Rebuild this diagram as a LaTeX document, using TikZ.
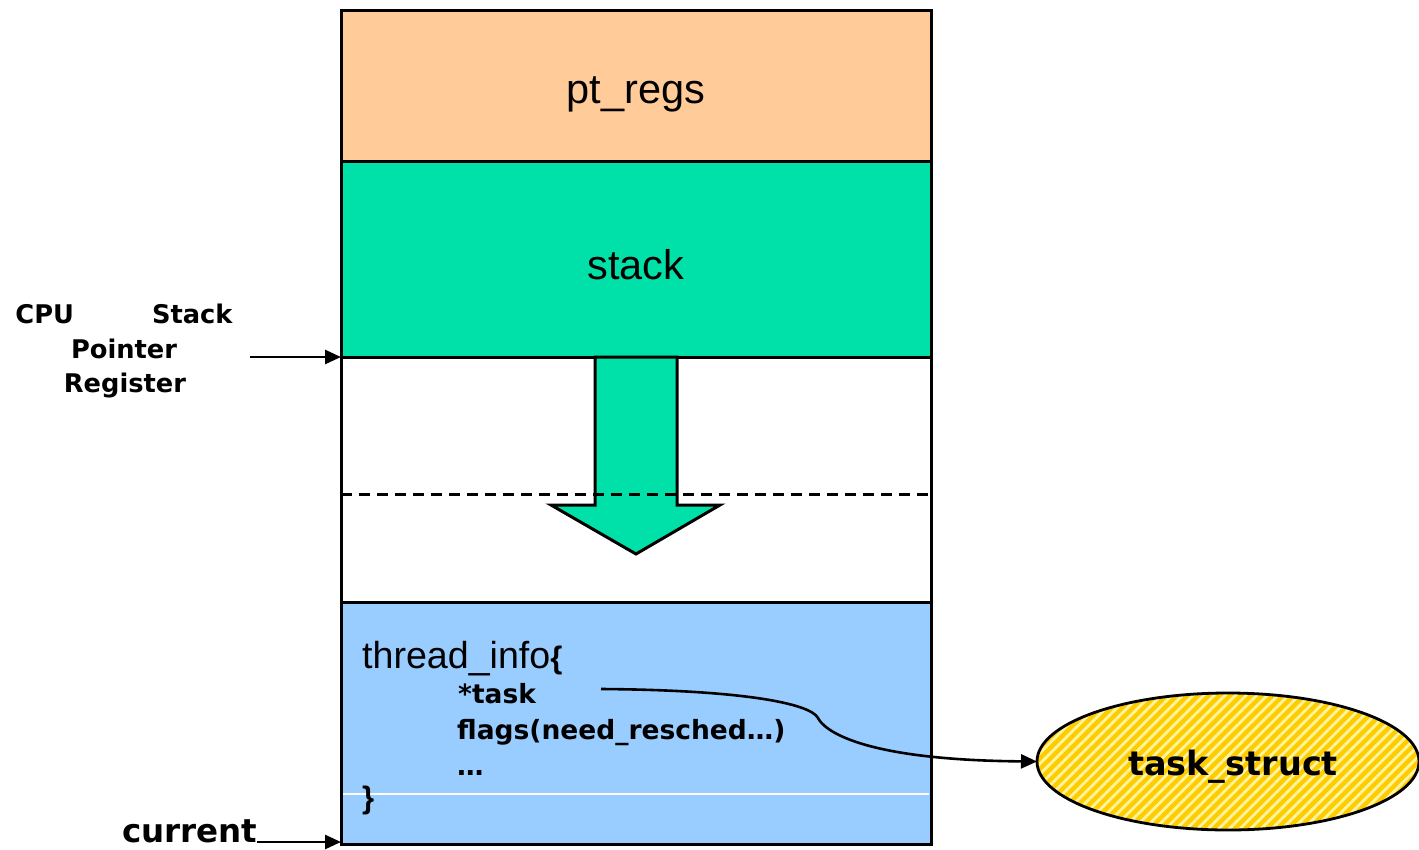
\documentclass[tikz,border=0pt]{standalone}
\usepackage{fontspec}
\setmainfont{Liberation Sans}
\newfontfamily\tagfont{DejaVu Sans}
\usetikzlibrary{arrows.meta,patterns.meta,shapes.geometric}

\definecolor{regpeach}{HTML}{FFCC99}
\definecolor{stackgreen}{HTML}{00E1A9}
\definecolor{infoblue}{HTML}{99CCFF}
\definecolor{taskgold}{HTML}{FFCC00}
\definecolor{taskstripe}{HTML}{FFF5A0}

\begin{document}
\begin{tikzpicture}[x=1pt,y=-1pt,
  region/.style={rectangle,draw=black,line width=3pt,minimum width=590pt,
    inner sep=0pt,outer sep=0pt},
  biglabel/.style={font=\fontsize{41.5}{48}\selectfont,inner sep=0pt,anchor=base},
  codelabel/.style={font=\fontsize{37.6}{44}\selectfont,inner sep=0pt,anchor=base west},
  fieldlabel/.style={font=\tagfont\bfseries\fontsize{26.5}{32}\selectfont,
    inner sep=0pt,anchor=base west},
  sidelabel/.style={font=\tagfont\bfseries\fontsize{25.7}{35}\selectfont,
    inner sep=0pt,anchor=base},
  pointer/.style={line width=2.6pt,-{Triangle[length=16pt,width=14pt]}},
  growarrow/.style={draw=black,line width=3pt,fill=stackgreen,line join=miter},
  limitline/.style={line width=3pt,dash pattern=on 11pt off 7pt},
]
\useasboundingbox (0,0) rectangle (1419,849);

% kernel stack page, top to bottom
\node[region,fill=regpeach,minimum height=151pt] (ptregs) at (636,85.5) {};
\node[region,fill=stackgreen,minimum height=196pt] (stackarea) at (636,259) {};
\node[region,fill=white,minimum height=245pt] (freearea) at (636,479.5) {};
\node[region,fill=infoblue,minimum height=242pt] (tinfo) at (636,723) {};

% direction of stack growth
\draw[growarrow] (595,357) -- (595,505) -- (551,505) -- (636,554)
  -- (720,505) -- (677,505) -- (677,357) -- cycle;

% stack limit
\draw[limitline] (341,494) -- (931,494);

% thin separator inside thread_info
\draw[white,line width=1.2pt] (343,794) -- (929,794);

% region titles
\node[biglabel] (ptregstext) at (636,103) {pt\_regs};
\node[biglabel] (stacktext) at (636,279) {stack};

% thread_info contents
\node[codelabel] (tihead) at (362,668)
  {thread\_info{\bfseries\fontsize{31}{36}\selectfont\{}};
\node[fieldlabel] (taskfield) at (458,703) {*task};
\node[fieldlabel] (flagsfield) at (457,739) {flags(need\_resched…)};
\node[fieldlabel] (morefields) at (457,775) {…};
\node[codelabel] (tiend) at (362,808) {\bfseries\fontsize{31}{36}\selectfont\}};

% stack pointer label
\node[sidelabel] (cpuline) at (124,323) {\hbox to 217pt{CPU\hfill Stack}};
\node[sidelabel] (pointerline) at (124,358) {Pointer};
\node[sidelabel] (registerline) at (125,392) {Register};
\coordinate (sptail) at (250,357);
\draw[pointer] (sptail) -- (freearea.north west);

% current pointer
\node[font=\tagfont\bfseries\fontsize{32.5}{38}\selectfont,inner sep=0pt,
  anchor=base west] (currentlabel) at (122,842) {current};
\coordinate (curtail) at (257,842);
\draw[pointer] (curtail) -- (curtail -| tinfo.west);

% task_struct
\node[ellipse,minimum width=382pt,minimum height=137pt,inner sep=0pt,outer sep=0pt,
  draw=black,line width=2.8pt,preaction={fill=taskgold},
  pattern={Lines[angle=45,distance=7.5pt,line width=2.8pt]},pattern color=taskstripe]
  (tstruct) at (1228,761.5) {};
\node[font=\tagfont\bfseries\fontsize{33.5}{40}\selectfont,inner sep=0pt,anchor=base]
  (taskname) at (1233,775) {task\_struct};

% *task -> task_struct
\coordinate (taskptr) at (601,689);
\draw[pointer] (taskptr) .. controls (740,690) and (810,703) .. (818,718)
  .. controls (824,730) and (860,760) .. (tstruct.west);
\end{tikzpicture}
\end{document}
